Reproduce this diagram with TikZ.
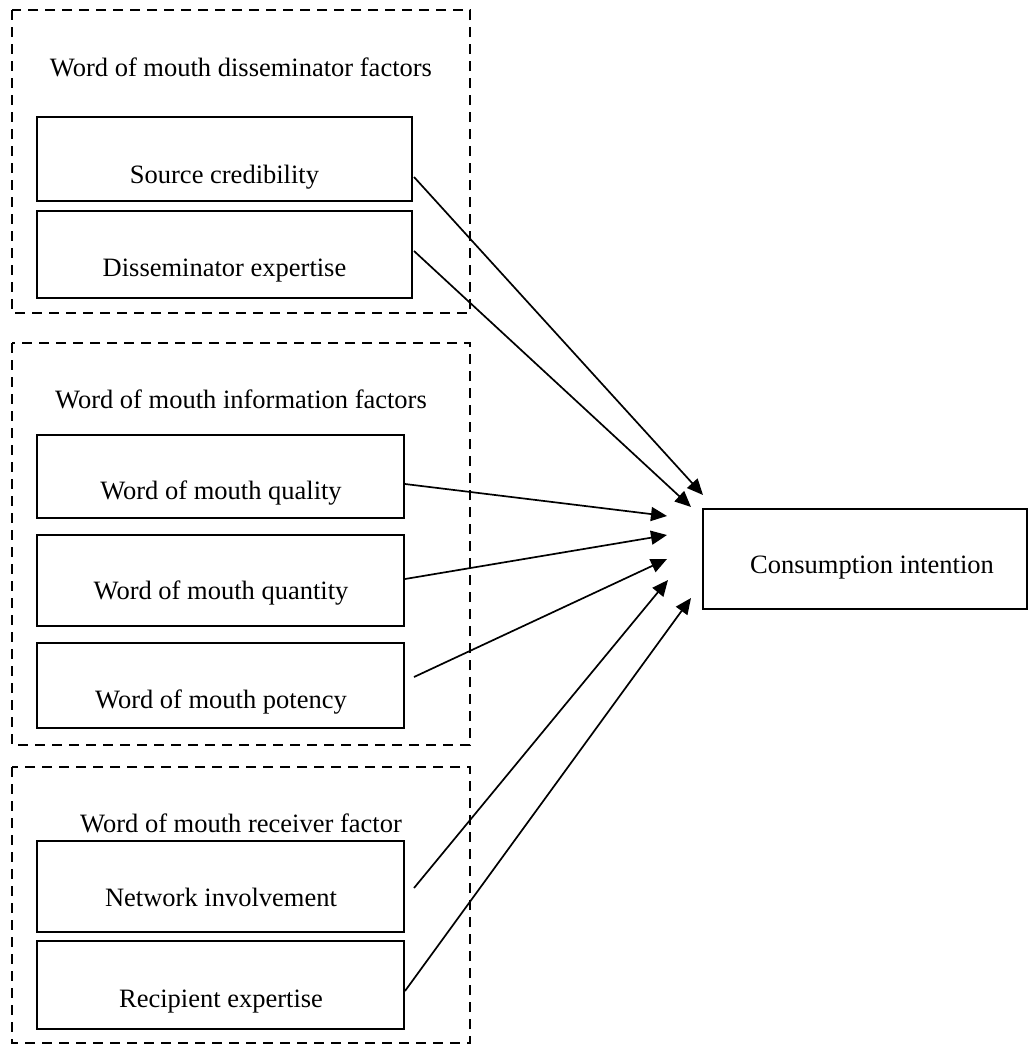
\documentclass[tikz,border=0pt]{standalone}
\usepackage{fontspec}
\setmainfont{Liberation Serif}
\usetikzlibrary{arrows.meta}
\begin{document}
\begin{tikzpicture}[x=1pt,y=-1pt,
  every node/.style={font=\fontsize{26.5}{32}\selectfont},
  group/.style={draw, line width=2.4pt, dash pattern=on 10pt off 7pt},
  box/.style={draw, line width=2pt, rectangle, inner sep=0pt},
  txt/.style={anchor=base, inner sep=0pt},
  link/.style={line width=1.7pt, -{Triangle[length=16pt,width=14pt]}}]
\useasboundingbox (0,0) rectangle (1028,1045);
% dashed groups
\draw[group] (12,10) rectangle (470,313);
\draw[group] (12,343) rectangle (470,745);
\draw[group] (12,767) rectangle (470,1043);
% group titles
\node[txt] (g1) at (241,76) {Word of mouth disseminator factors};
\node[txt] (g2) at (241,408) {Word of mouth information factors};
\node[txt] (g3) at (241,832) {Word of mouth receiver factor};
% boxes
\node[box, minimum width=375pt, minimum height=84pt] (src) at (224.5,159) {};
\node[box, minimum width=375pt, minimum height=87pt] (dis) at (224.5,254.5) {};
\node[box, minimum width=367pt, minimum height=83pt] (qual) at (220.5,476.5) {};
\node[box, minimum width=367pt, minimum height=91pt] (quant) at (220.5,580.5) {};
\node[box, minimum width=367pt, minimum height=85pt] (pot) at (220.5,685.5) {};
\node[box, minimum width=367pt, minimum height=91pt] (net) at (220.5,886.5) {};
\node[box, minimum width=367pt, minimum height=88pt] (rec) at (220.5,985) {};
\node[box, minimum width=324pt, minimum height=100pt] (cons) at (865,559) {};
% texts
\node[txt] at (224.5,183) {Source credibility};
\node[txt] at (224.5,276) {Disseminator expertise};
\node[txt] at (221,499) {Word of mouth quality};
\node[txt] at (221,599) {Word of mouth quantity};
\node[txt] at (221,708) {Word of mouth potency};
\node[txt] at (221,906) {Network involvement};
\node[txt] at (221,1007) {Recipient expertise};
\node[txt] at (872,573) {Consumption intention};
% arrow tips
\coordinate (t1) at (703,495);
\coordinate (t2) at (691,507);
\coordinate (t3) at (667,516);
\coordinate (t4) at (667,535);
\coordinate (t5) at (667,559);
\coordinate (t6) at (668,580);
\coordinate (t7) at (691,598);
% connectors
\draw[link] ([xshift=1pt,yshift=-18pt]src.east) -- (t1);
\draw[link] ([xshift=1pt,yshift=3.5pt]dis.east) -- (t2);
\draw[link] ([yshift=-7.5pt]qual.east) -- (t3);
\draw[link] ([yshift=1.5pt]quant.east) -- (t4);
\draw[link] ([xshift=9pt,yshift=8.5pt]pot.east) -- (t5);
\draw[link] ([xshift=9pt,yshift=-1.5pt]net.east) -- (t6);
\draw[link] ([yshift=-6pt]rec.east) -- (t7);
\end{tikzpicture}
\end{document}
